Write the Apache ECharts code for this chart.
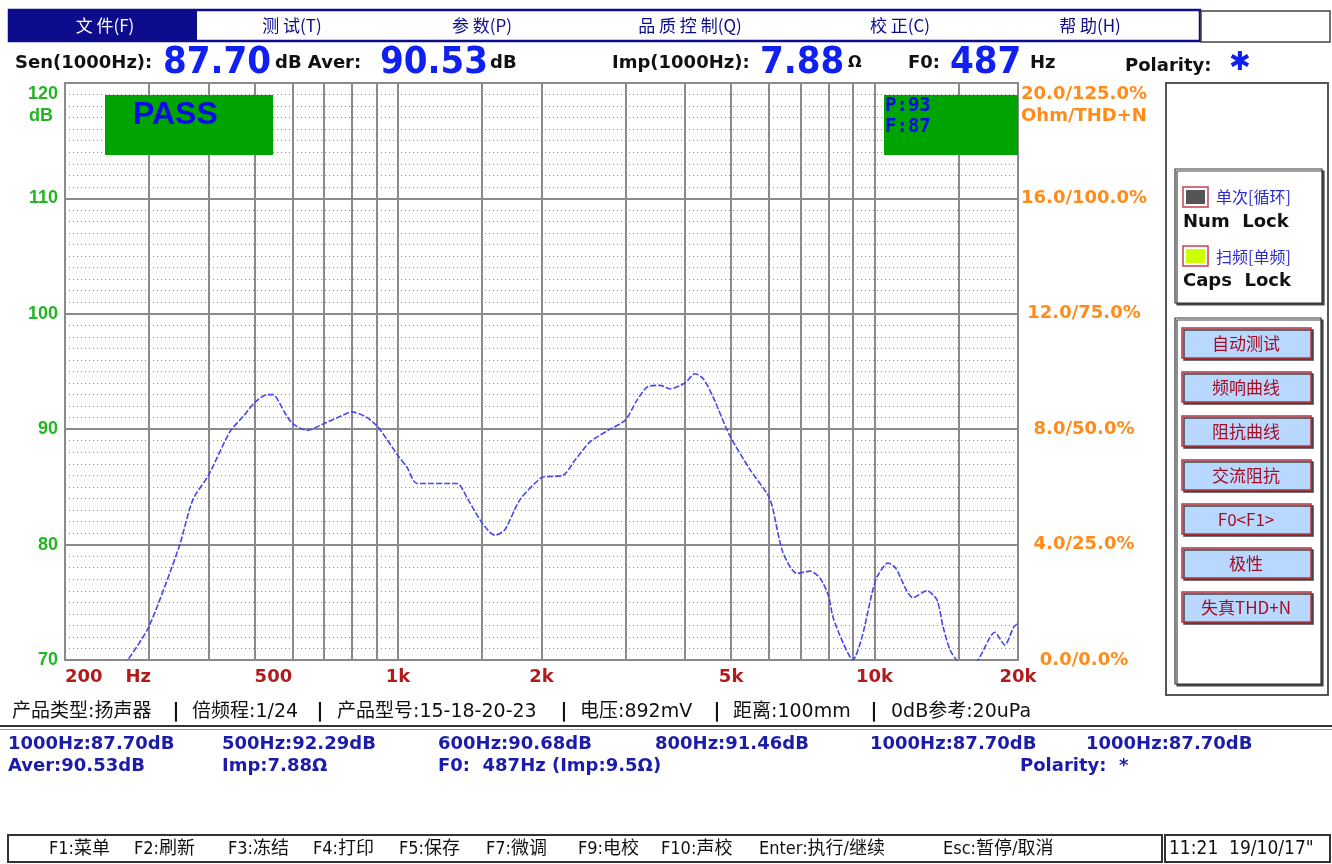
<!DOCTYPE html>
<html>
<head>
<meta charset="utf-8">
<title>频响曲线</title>
<script src="https://cdn.jsdelivr.net/npm/echarts@6/dist/echarts.min.js"></script>
<style>
  html, body { margin: 0; padding: 0; background: #fff; }
  #chart { width: 1332px; height: 864px; }
</style>
</head>
<body>
<div id="chart"></div>
<script>
  // frequency response (Hz / dB)
  const freqs = [260, 271, 300, 347, 371, 400, 444, 473, 500, 531, 546, 579, 600, 644, 700, 755, 800, 861, 907, 948,
    1000, 1044, 1096, 1329, 1402, 1500, 1597, 1676, 1803, 2000, 2084, 2220, 2350, 2528, 2759, 3000, 3171, 3345, 3546, 3722,
    4000, 4198, 4365, 4582, 4960, 5479, 5974, 6100, 6426, 6872, 7320, 7682, 8000, 8183, 8586, 9000, 9412, 9878, 10120, 10670,
    11060, 12040, 12880, 13520, 13920, 14390, 14850, 15500, 16480, 17890, 18770, 19560, 20000]
  const spl = [69.0, 70.0, 72.9, 79.8, 83.9, 86.0, 89.8, 91.1, 92.3, 93.0, 93.0, 91.4, 90.5, 89.9, 90.5, 91.1, 91.5, 91.0, 90.2, 89.1,
    87.7, 86.7, 85.3, 85.3, 83.9, 81.9, 80.8, 81.3, 83.9, 85.8, 85.9, 86.0, 87.3, 88.9, 89.9, 90.8, 92.5, 93.7, 93.8, 93.5,
    94.0, 94.8, 94.4, 92.8, 89.5, 86.5, 84.3, 83.3, 79.3, 77.5, 77.7, 77.1, 75.6, 73.7, 71.5, 70.0, 72.0, 75.8, 77.2, 78.4,
    78.0, 75.4, 76.0, 75.2, 72.9, 70.9, 70.0, 69.0, 70.0, 72.4, 71.3, 72.8, 73.2]

  // axes
  const dbTicks = [70, 80, 90, 100, 110, 120]
  const rightTicks = ['0.0/0.0%', '4.0/25.0%', '8.0/50.0%', '12.0/75.0%', '16.0/100.0%', '20.0/125.0%']
  const gridFreqs = [300, 400, 500, 600, 700, 800, 900, 1000, 1500, 2000, 3000, 4000, 5000, 6000, 7000, 8000, 9000, 10000, 15000]
  const freqLabelValues = [200, 285, 500, 1000, 2000, 5000, 10000, 20000]
  const freqLabelTexts = ['200', 'Hz', '500', '1k', '2k', '5k', '10k', '20k']

  // screen texts
  const menuItems = ['文 件(F)', '测 试(T)', '参 数(P)', '品 质 控 制(Q)', '校 正(C)', '帮 助(H)']
  const buttons = ['自动测试', '频响曲线', '阻抗曲线', '交流阻抗', 'F0<F1>', '极性', '失真THD+N']
  const infoItems = ['产品类型:扬声器', '倍频程:1/24', '产品型号:15-18-20-23', '电压:892mV', '距离:100mm', '0dB参考:20uPa']
  const resultRow1 = ['1000Hz:87.70dB', '500Hz:92.29dB', '600Hz:90.68dB', '800Hz:91.46dB', '1000Hz:87.70dB', '1000Hz:87.70dB']
  const resultRow2 = ['Aver:90.53dB', 'Imp:7.88Ω', 'F0:  487Hz (Imp:9.5Ω)', 'Polarity:  *']
  const keyHints = ['F1:菜单', 'F2:刷新', 'F3:冻结', 'F4:打印', 'F5:保存', 'F7:微调', 'F9:电校', 'F10:声校', 'Enter:执行/继续', 'Esc:暂停/取消']
  const sen = '87.70', aver = '90.53', imp = '7.88', f0 = '487'

  const NAVY = '#0c0c8c'
  const UI = '"DejaVu Sans", "Noto Sans CJK SC", sans-serif'
  const CJK = '"Noto Sans CJK SC", "DejaVu Sans", sans-serif'
  const SEG = '"DejaVu Sans Condensed", "DejaVu Sans", sans-serif'

  function txt(x, y, text, font, fill, align, z) {
    return {
      type: 'text', x: x, y: y, z: z || 10, silent: true,
      style: { text: text, font: font, fill: fill, textAlign: align || 'left', textVerticalAlign: 'middle' }
    }
  }
  function box(x, y, w, h, style, z) {
    return { type: 'rect', z: z || 5, silent: true, shape: { x: x, y: y, width: w, height: h }, style: style }
  }

  const g = []
  // menu bar
  g.push(box(9, 10, 1191, 31, { fill: '#fff', stroke: NAVY, lineWidth: 2.5 }))
  g.push(box(10, 11, 187, 29, { fill: NAVY }, 6))
  g.push(box(1201, 11, 129, 31, { fill: '#fff', stroke: '#444', lineWidth: 1.5 }))
  const menuX = [105, 292, 482, 690, 900, 1090]
  menuItems.forEach((m, i) => g.push(txt(menuX[i], 26, m, '17px ' + CJK, i === 0 ? '#fff' : NAVY, 'center')))

  // headline values
  const blk = '#111'
  const B = '#1020f0'
  g.push(txt(15, 63, 'Sen(1000Hz):', 'bold 18px ' + UI, blk))
  g.push(txt(163, 63, sen, 'bold 38px ' + SEG, B))
  g.push(txt(275, 63, 'dB Aver:', 'bold 18px ' + UI, blk))
  g.push(txt(380, 63, aver, 'bold 38px ' + SEG, B))
  g.push(txt(490, 63, 'dB', 'bold 18px ' + UI, blk))
  g.push(txt(612, 63, 'Imp(1000Hz):', 'bold 18px ' + UI, blk))
  g.push(txt(760, 63, imp, 'bold 38px ' + SEG, B))
  g.push(txt(848, 63, 'Ω', 'bold 16px ' + UI, blk))
  g.push(txt(908, 63, 'F0:', 'bold 18px ' + UI, blk))
  g.push(txt(950, 63, f0, 'bold 38px ' + SEG, B))
  g.push(txt(1030, 63, 'Hz', 'bold 18px ' + UI, blk))
  g.push(txt(1125, 66, 'Polarity:', 'bold 18px ' + UI, blk))
  g.push(txt(1240, 63, '✱', 'bold 26px ' + UI, B, 'center'))

  // PASS / count boxes on the plot
  g.push(box(105, 95, 168, 60, { fill: '#00a400' }, 50))
  g.push(txt(133, 115, 'PASS', 'bold 32px "Liberation Sans", sans-serif', '#0a0aee', 'left', 51))
  g.push(box(884, 95, 134, 60, { fill: '#00a400' }, 50))
  g.push(txt(885, 106, 'P:93', 'bold 19px "DejaVu Sans Mono", monospace', '#0a0aee', 'left', 51))
  g.push(txt(885, 127, 'F:87', 'bold 19px "DejaVu Sans Mono", monospace', '#0a0aee', 'left', 51))

  // right panel
  g.push(box(1166, 83, 162, 612, { fill: '#fff', stroke: '#555', lineWidth: 2 }, 3))
  const shadow = { shadowColor: '#444', shadowOffsetX: 2, shadowOffsetY: 2, shadowBlur: 0 }
  g.push(box(1175, 169, 147, 134, Object.assign({ fill: '#fff', stroke: '#333', lineWidth: 1.2 }, shadow), 4))
  g.push(box(1183, 187, 25, 20, { fill: '#fff', stroke: '#c84050', lineWidth: 1.5 }))
  g.push(box(1186, 190, 19, 14, { fill: '#555' }, 6))
  g.push(txt(1216, 197, '单次[循环]', '16px ' + CJK, '#2a2ad0'))
  g.push(txt(1183, 222, 'Num  Lock', 'bold 18px ' + UI, blk))
  g.push(box(1183, 246, 25, 20, { fill: '#fff', stroke: '#c84050', lineWidth: 1.5 }))
  g.push(box(1186, 249, 19, 14, { fill: '#ccff00' }, 6))
  g.push(txt(1216, 257, '扫频[单频]', '16px ' + CJK, '#2a2ad0'))
  g.push(txt(1183, 281, 'Caps  Lock', 'bold 18px ' + UI, blk))
  g.push(box(1175, 318, 146, 366, Object.assign({ fill: '#fff', stroke: '#333', lineWidth: 1.2 }, shadow), 4))
  buttons.forEach((b, i) => {
    const y = 328 + i * 44
    g.push(box(1182, y, 129, 30, Object.assign({ fill: '#b8d8ff', stroke: '#c0303a', lineWidth: 1.5 }, shadow), 6))
    g.push(txt(1246, y + 16, b, '17px ' + CJK, '#a80c22', 'center', 11))
  })

  // info line
  const infoX = [12, 192, 337, 580, 733, 891]
  const sepX = [176, 320, 564, 717, 874]
  infoItems.forEach((t, i) => g.push(txt(infoX[i], 712, t, '19px ' + UI, blk)))
  sepX.forEach(x => g.push(txt(x, 712, '|', 'bold 19px ' + UI, blk, 'center')))
  g.push({ type: 'line', silent: true, shape: { x1: 0, y1: 726, x2: 1332, y2: 726 }, style: { stroke: '#333', lineWidth: 2 } })
  g.push({ type: 'line', silent: true, shape: { x1: 0, y1: 729.5, x2: 1332, y2: 729.5 }, style: { stroke: '#999', lineWidth: 1 } })

  // results
  const resX = [8, 222, 438, 655, 870, 1086]
  const RB = '#1c1caa'
  resultRow1.forEach((t, i) => g.push(txt(resX[i], 744, t, 'bold 18px ' + UI, RB)))
  g.push(txt(8, 766, resultRow2[0], 'bold 18px ' + UI, RB))
  g.push(txt(222, 766, resultRow2[1], 'bold 18px ' + UI, RB))
  g.push(txt(438, 766, resultRow2[2], 'bold 18px ' + UI, RB))
  g.push(txt(1020, 766, resultRow2[3], 'bold 18px ' + UI, RB))

  // status bar
  g.push(box(8, 835, 1154, 27, { fill: '#fff', stroke: '#333', lineWidth: 2 }))
  g.push(box(1165, 835, 165, 27, { fill: '#fff', stroke: '#333', lineWidth: 2 }))
  const hintX = [49, 134, 228, 313, 399, 486, 578, 661, 759, 943]
  keyHints.forEach((t, i) => g.push(txt(hintX[i], 849, t, '18px "DejaVu Sans Condensed", "Noto Sans CJK SC", sans-serif', blk)))
  g.push(txt(1169, 849, '11:21  19/10/17"', '19px "DejaVu Sans Condensed", "DejaVu Sans", sans-serif', blk))

  // vertical grid lines and frequency labels, placed through the x axis scale
  const markData = gridFreqs.map(f => ({ xAxis: f }))
  freqLabelValues.forEach((f, i) => {
    markData.push({
      xAxis: f,
      lineStyle: { color: 'rgba(0,0,0,0)', width: 1 },
      label: {
        show: true, position: 'start', distance: 8, formatter: freqLabelTexts[i], opacity: 1,
        align: (f === 200 || f === 500) ? 'left' : 'center',
        color: '#b01c1c', fontSize: 18, fontWeight: 'bold', fontFamily: 'DejaVu Sans'
      }
    })
  })

  const chart = echarts.init(document.getElementById('chart'), null, { renderer: 'canvas' })
  chart.setOption({
    animation: false,
    backgroundColor: '#fff',
    graphic: { elements: g },
    grid: {
      left: 65, top: 83, width: 953, height: 577,
      show: true, borderColor: '#8a8a8a', borderWidth: 2, backgroundColor: '#fff'
    },
    xAxis: {
      type: 'log', logBase: 10, min: 200, max: 20000,
      axisLine: { show: false }, axisTick: { show: false },
      axisLabel: { show: false }, splitLine: { show: false }
    },
    yAxis: [
      {
        type: 'value', min: 70, max: 120, interval: 10, position: 'left',
        axisLine: { show: false }, axisTick: { show: false },
        axisLabel: {
          margin: 7, color: '#22b422', fontSize: 18, fontWeight: 'bold',
          fontFamily: 'Liberation Sans', lineHeight: 22,
          formatter: v => v === 120 ? '\n\n120\ndB ' : String(dbTicks[dbTicks.indexOf(v)])
        },
        splitLine: { show: true, lineStyle: { color: '#8a8a8a', width: 2 } },
        minorTick: { show: false, splitNumber: 10 },
        minorSplitLine: { show: true, lineStyle: { color: '#8c8c8c', width: 1, type: [1, 3] } }
      },
      {
        type: 'value', min: 70, max: 120, interval: 10, position: 'right',
        axisLine: { show: false }, axisTick: { show: false }, splitLine: { show: false },
        axisLabel: {
          margin: 66, align: 'center', color: '#ff8c1a', fontSize: 18, fontWeight: 'bold',
          fontFamily: 'DejaVu Sans', lineHeight: 22,
          formatter: v => {
            const t = rightTicks[dbTicks.indexOf(v)]
            return v === 120 ? '\n\n' + t + '\nOhm/THD+N' : t
          }
        }
      }
    ],
    series: [
      {
        type: 'line',
        z: 3,
        data: freqs.map((f, i) => [f, spl[i]]),
        showSymbol: false,
        symbol: 'none',
        smooth: 0.25,
        clip: true,
        silent: true,
        lineStyle: { color: '#4646f0', width: 1.6, type: [6, 2] },
        markLine: {
          silent: true, z: 1,
          symbol: ['none', 'none'],
          label: { show: false },
          emphasis: { disabled: true },
          lineStyle: { color: '#8a8a8a', width: 2, type: 'solid' },
          data: markData
        }
      }
    ]
  })
</script>
</body>
</html>
